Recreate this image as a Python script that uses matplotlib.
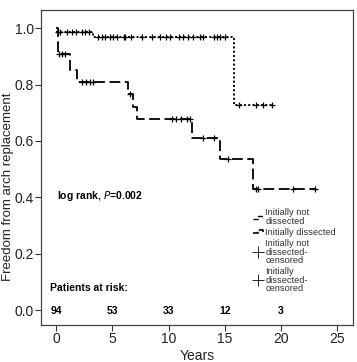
import numpy as np
import matplotlib
matplotlib.use('Agg')
import matplotlib.pyplot as plt
from matplotlib.lines import Line2D
from matplotlib.legend_handler import HandlerBase

plt.rcParams['font.family'] = ['Liberation Sans', 'DejaVu Sans']

# Kaplan-Meier steps
nd_times = [0, 3.3, 15.8]
nd_surv = [0.985, 0.97, 0.727]
nd_end = 19.3
nd_cens = [0.15, 0.36, 0.95, 1.4, 1.8, 2.3, 2.6, 2.9, 3.75, 4.06, 4.35, 4.8, 5.1,
           5.4, 6.0, 6.1, 6.7, 7.6, 8.5, 9.2, 9.8, 10.1, 10.9, 11.3, 11.7, 12.2,
           12.8, 13.1, 14.0, 14.3, 14.6, 15.0, 16.3, 17.8, 18.4, 19.2]

d_times = [0, 0.15, 1.2, 1.9, 6.4, 6.85, 7.2, 12.1, 14.6, 17.5]
d_surv = [1.0, 0.91, 0.85, 0.81, 0.765, 0.72, 0.677, 0.611, 0.535, 0.428]
d_end = 23.0
d_cens = [0.3, 0.55, 0.8, 2.3, 2.7, 3.0, 3.3, 6.6, 10.3, 10.7, 11.1, 11.6, 11.9,
          13.1, 14.0, 15.3, 17.8, 17.95, 21.1, 23.0]

risk_times = [0, 5, 10, 15, 20]
risk_counts = ['94', '53', '33', '12', '3']

DOT = (0, (1, 1.2))
DASH = (0, (6, 2.5))


def step_val(times, surv, t):
    idx = np.searchsorted(times, t, side='right') - 1
    return np.array(surv)[idx]


class HandlerStep(HandlerBase):
    # little step icon like the SPSS legend
    def create_artists(self, legend, orig_handle, xdescent, ydescent,
                       width, height, fontsize, trans):
        x0 = -xdescent
        y0 = -ydescent
        xs = [x0, x0 + 0.45 * width, x0 + 0.45 * width, x0 + width, x0 + width]
        ys = [y0 + 0.25 * height, y0 + 0.25 * height, y0 + 0.75 * height,
              y0 + 0.75 * height, y0 + 0.4 * height]
        ln = Line2D(xs, ys, color=orig_handle.get_color(),
                    lw=orig_handle.get_linewidth(),
                    linestyle=orig_handle.get_linestyle(), transform=trans)
        return [ln]


fig = plt.figure(figsize=(3.57, 3.62), dpi=100)
ax = fig.add_axes([0.115, 0.102, 0.874, 0.870])

ax.step(nd_times + [nd_end], nd_surv + [nd_surv[-1]], where='post',
        color='black', lw=1.4, linestyle=DOT)
ax.step(d_times + [d_end], d_surv + [d_surv[-1]], where='post',
        color='black', lw=1.3, linestyle=DASH)
ax.plot(nd_cens, step_val(nd_times, nd_surv, nd_cens), '+', color='black',
        ms=5, mew=0.9)
ax.plot(d_cens, step_val(d_times, d_surv, d_cens), '+', color='black',
        ms=5, mew=0.9)

ax.set_xlim(-1.33, 26.4)
ax.set_ylim(-0.053, 1.064)
ax.set_xticks([0, 5, 10, 15, 20, 25])
ax.set_yticks([0.0, 0.2, 0.4, 0.6, 0.8, 1.0])
ax.set_yticklabels(['0.0', '0.2', '0.4', '0.6', '0.8', '1.0'])
ax.tick_params(labelsize=10, length=4, width=0.8, pad=1, colors='#333333',
               labelcolor='#222222')
for sp in ax.spines.values():
    sp.set_color('#444444')
    sp.set_linewidth(0.9)

ax.set_ylabel('Freedom from arch replacement', fontsize=9.5, color='#222222')
ax.yaxis.set_label_coords(-0.088, 0.44)
ax.set_xlabel('Years', fontsize=10, color='#222222', labelpad=2)

ax.text(0.1, 0.405, 'log rank, $\\mathbf{\\it{P}}$=0.002', fontsize=7.5,
        fontweight='bold', va='center')
ax.text(-0.5, 0.08, 'Patients at risk:', fontsize=7.5, fontweight='bold',
        va='center')
for t, n in zip(risk_times, risk_counts):
    ax.text(t, -0.003, n, fontsize=7.5, fontweight='bold', ha='center',
            va='center')

handles = [
    Line2D([], [], color='black', lw=1.0, linestyle=(0, (1, 1))),
    Line2D([], [], color='black', lw=1.2, linestyle=(0, (4, 1.5))),
    Line2D([], [], color='black', marker='+', linestyle='None', ms=8, mew=0.6),
    Line2D([], [], color='black', marker='+', linestyle='None', ms=8, mew=0.6),
]
labels = ['Initially not\ndissected', 'Initially dissected',
          'Initially not\ndissected-\ncensored',
          'Initially\ndissected-\ncensored']
leg = ax.legend(handles, labels, loc='upper left', bbox_to_anchor=(0.665, 0.385),
                frameon=False, fontsize=6.7, handlelength=1.1, handletextpad=0.2,
                labelspacing=0.25, borderpad=0,
                handler_map={handles[0]: HandlerStep(), handles[1]: HandlerStep()})
for txt in leg.get_texts():
    txt.set_color('#333333')
    txt.set_linespacing(0.9)

fig.savefig('out.png', dpi=100)
